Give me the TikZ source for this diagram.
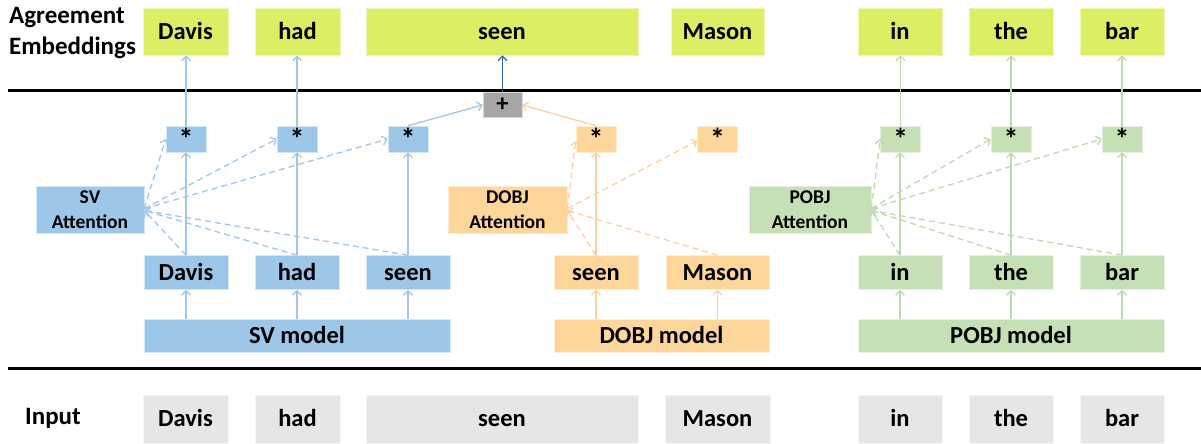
\documentclass[tikz,border=0pt]{standalone}
\usepackage{fontspec}
\setmainfont{Carlito}
\usetikzlibrary{arrows.meta}
\definecolor{ygreen}{RGB}{220,238,100}
\definecolor{sblue}{RGB}{157,199,232}
\definecolor{sorange}{RGB}{255,214,153}
\definecolor{sgreen}{RGB}{197,224,180}
\definecolor{igray}{RGB}{231,230,230}
\definecolor{pgray}{RGB}{168,165,165}
\definecolor{lblue}{RGB}{160,198,232}
\definecolor{lorange}{RGB}{250,210,162}
\definecolor{lgreen}{RGB}{190,216,175}
\definecolor{dblue}{RGB}{50,100,160}
\begin{document}
\begin{tikzpicture}[x=1pt,y=-1pt,
  fbox/.style={rectangle, inner sep=0pt, draw=white!55!#1, line width=0.6pt, fill=#1},
  box/.style={fbox=#1, font=\fontsize{24.5}{28}\selectfont\bfseries, text height=15.5pt, text depth=0pt},
  attn/.style={fbox=#1, align=center, font=\fontsize{19.5}{25}\selectfont\bfseries, minimum width=108pt, minimum height=47pt},
  star/.style={fbox=#1, font=\fontsize{30}{32}\selectfont\bfseries, text height=21.6pt, text depth=-11.4pt, minimum width=40pt, minimum height=26pt},
  top/.style={box=ygreen, minimum height=47pt},
  word/.style={box=#1, minimum height=34pt},
  model/.style={box=#1, minimum height=33pt},
  inbox/.style={box=igray, minimum height=48pt},
  lab/.style={inner sep=0pt, font=\fontsize{25}{31}\selectfont\bfseries},
  con/.style={draw=#1, line width=1.3pt, -{Straight Barb[length=4.5pt,width=9pt]}},
  dcon/.style={con=#1, dash pattern=on 6pt off 4pt},
  rule/.style={line width=3.5pt, black}
]
\useasboundingbox (0,0) rectangle (1201,444);

% labels
\node[lab, anchor=west, align=left] (ae) at (9,33.5) {Agreement\\Embeddings};
\node[lab] (inp) at (53,418) {Input};

% rules
\draw[rule] (8,90.5) -- (1201,90.5);
\draw[rule] (8,368.5) -- (1201,368.5);

% top agreement embeddings
\node[top, minimum width=85pt] (tDavis) at (185.5,31.5) {Davis};
\node[top, minimum width=85pt] (thad) at (297.5,31.5) {had};
\node[top, minimum width=272pt] (tseen) at (502,31.5) {seen};
\node[top, minimum width=93pt] (tMason) at (717.5,31.5) {Mason};
\node[top, minimum width=84pt] (tin) at (900,31.5) {in};
\node[top, minimum width=84pt] (tthe) at (1011,31.5) {the};
\node[top, minimum width=84pt] (tbar) at (1122,31.5) {bar};

% plus
\node[fbox=pgray, font=\fontsize{24.5}{28}\selectfont\bfseries, minimum width=39pt, minimum height=24.5pt] (plus) at (502.5,105) {+};

% stars
\node[star=sblue] (s1) at (186,139) {*};
\node[star=sblue] (s2) at (297,139) {*};
\node[star=sblue] (s3) at (408,139) {*};
\node[star=sorange] (o1) at (596,139) {*};
\node[star=sorange] (o2) at (717.5,139) {*};
\node[star=sgreen] (g1) at (900.5,139) {*};
\node[star=sgreen] (g2) at (1011,139) {*};
\node[star=sgreen] (g3) at (1122,139) {*};

% attention
\node[attn=sblue] (sva) at (90,209.5) {SV\\Attention};
\node[attn=sorange, minimum width=119pt] (doa) at (507.5,209.5) {DOBJ\\Attention};
\node[attn=sgreen, minimum width=122pt] (poa) at (810,209.5) {POBJ\\Attention};

% words
\node[word=sblue, minimum width=84pt] (bDavis) at (186,272.5) {Davis};
\node[word=sblue, minimum width=84pt] (bhad) at (297,272.5) {had};
\node[word=sblue, minimum width=84pt] (bseen) at (408,272.5) {seen};
\node[word=sorange, minimum width=84pt] (oseen) at (596,272.5) {seen};
\node[word=sorange, minimum width=103pt] (oMason) at (717.5,272.5) {Mason};
\node[word=sgreen, minimum width=84pt] (gin) at (900,272.5) {in};
\node[word=sgreen, minimum width=84pt] (gthe) at (1011,272.5) {the};
\node[word=sgreen, minimum width=84pt] (gbar) at (1122,272.5) {bar};

% models
\node[model=sblue, minimum width=306pt] (svm) at (297,335.5) {SV model};
\node[model=sorange, minimum width=215pt] (dom) at (661.5,335.5) {DOBJ model};
\node[model=sgreen, minimum width=306pt] (pom) at (1011,335.5) {POBJ model};

% inputs
\node[inbox, minimum width=85pt] (iDavis) at (185.5,419) {Davis};
\node[inbox, minimum width=85pt] (ihad) at (297.5,419) {had};
\node[inbox, minimum width=272pt] (iseen) at (502,419) {seen};
\node[inbox, minimum width=105pt] (iMason) at (717.5,419) {Mason};
\node[inbox, minimum width=84pt] (iin) at (900,419) {in};
\node[inbox, minimum width=84pt] (ithe) at (1011,419) {the};
\node[inbox, minimum width=84pt] (ibar) at (1122,419) {bar};

% model -> words
\foreach \w/\m/\c in {bDavis/svm/lblue, bhad/svm/lblue, bseen/svm/lblue, oseen/dom/lorange, oMason/dom/lorange, gin/pom/lgreen, gthe/pom/lgreen, gbar/pom/lgreen}
  \draw[con=\c] (\w.south |- \m.north) -- (\w.south);

% words -> stars
\foreach \w/\s/\c in {bDavis/s1/lblue, bhad/s2/lblue, bseen/s3/lblue, oseen/o1/lorange, gin/g1/lgreen, gthe/g2/lgreen, gbar/g3/lgreen}
  \draw[con=\c] (\w.north) -- (\w.north |- \s.south);

% stars -> top
\foreach \s/\t/\c in {s1/tDavis/lblue, s2/thad/lblue, g1/tin/lgreen, g2/tthe/lgreen, g3/tbar/lgreen}
  \draw[con=\c] (\s.north) -- (\s.north |- \t.south);
\draw[con=lblue] (s3.north) -- (plus.west);
\draw[con=lorange] (o1.north) -- (plus.east);
\draw[con=dblue] (plus.north) -- (plus.north |- tseen.south);

% attention -> stars (dashed)
\foreach \s in {s1,s2,s3} \draw[dcon=lblue] ([yshift=1pt]sva.east) -- (\s.west);
\foreach \s in {o1,o2} \draw[dcon=lorange] ([yshift=1pt]doa.east) -- ([yshift=-2pt]\s.west);
\foreach \s in {g1,g2,g3} \draw[dcon=lgreen] ([yshift=1pt]poa.east) -- (\s.west);

% words -> attention (dashed)
\foreach \w in {bDavis,bhad,bseen} \draw[dcon=lblue] (\w.north) -- ([yshift=-1pt]sva.east);
\foreach \w in {oseen,oMason} \draw[dcon=lorange] (\w.north) -- ([yshift=-1pt]doa.east);
\foreach \w in {gin,gthe,gbar} \draw[dcon=lgreen] (\w.north) -- ([yshift=-1pt]poa.east);
\end{tikzpicture}
\end{document}
